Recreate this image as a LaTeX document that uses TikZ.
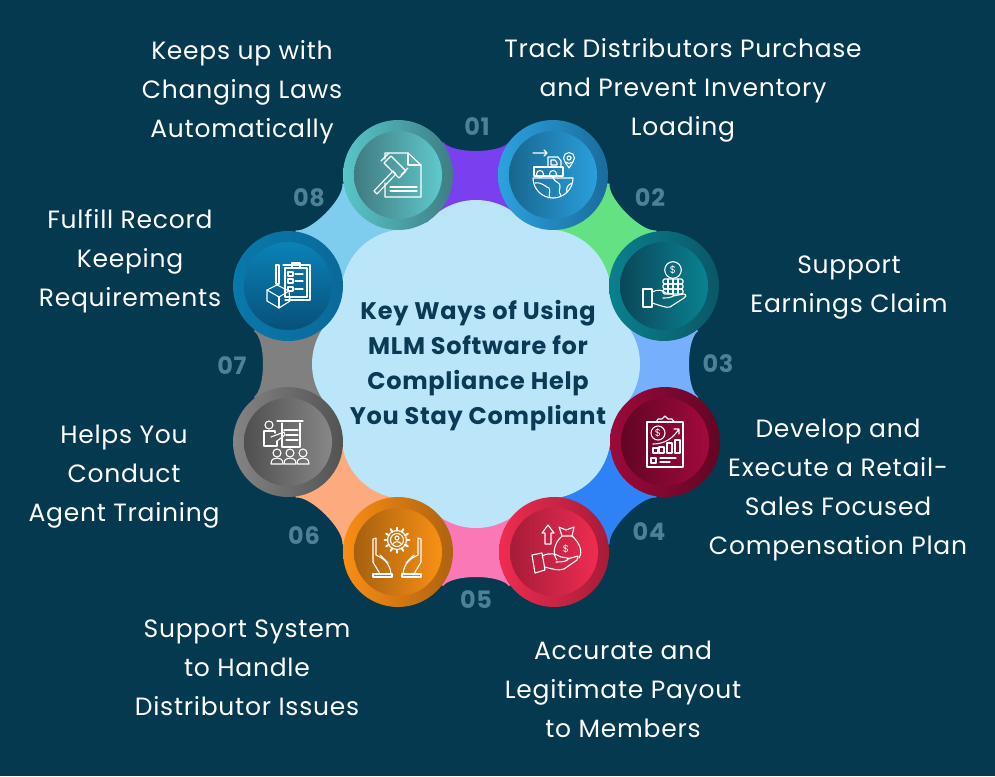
\documentclass[tikz,border=0pt]{standalone}
\usepackage{xcolor}
\usepackage{fontspec}
\setmainfont{Poppins}[LetterSpace=3]
\usetikzlibrary{
  positioning,
  calc
}
\definecolor{bgcol}{HTML}{04394F}
\definecolor{blobcol}{HTML}{BBE5F8}
\definecolor{titlecol}{HTML}{0A3A56}
\definecolor{numcol}{HTML}{4E8197}
\definecolor{gapA}{HTML}{7A3FEE}
\definecolor{gapB}{HTML}{64E283}
\definecolor{gapC}{HTML}{76AFFB}
\definecolor{gapD}{HTML}{2F82F6}
\definecolor{gapE}{HTML}{FB78B6}
\definecolor{gapF}{HTML}{FDAB7E}
\definecolor{gapG}{HTML}{808080}
\definecolor{gapH}{HTML}{7ECDEE}
\tikzset{
  ringdisc/.style={circle,minimum size=110pt,inner sep=0pt},
  coredisc/.style={circle,minimum size=88pt,inner sep=0pt},
  caption/.style={white,align=center,font=\fontsize{25}{39}\selectfont,inner sep=0pt},
  heading/.style={titlecol,align=center,font=\fontsize{24}{35}\selectfont\bfseries,inner sep=0pt},
  number/.style={numcol,font=\fontsize{24}{28}\selectfont\bfseries,inner sep=0pt},
  iconline/.style={white,line width=1.1pt,line join=round,line cap=round},
  dollar/.style={white,font=\fontsize{10}{10}\selectfont,inner sep=0pt}
}
\begin{document}
\begin{tikzpicture}[x=1pt,y=-1pt]
  \useasboundingbox[fill=bgcol] (0,0) rectangle (995,776);
  \coordinate (hub) at (476,364);
  % ring positions
  \foreach \k/\x/\y in {1/398/175,2/553/175,3/664/286,4/665/442,5/554/552,6/398/552,7/288/442,8/288/286}
  \coordinate (c\k) at (\x,\y);

  % coloured bands between neighbours
  \foreach \k/\a/\b/\col in {0/1/2/gapA,1/2/3/gapB,2/3/4/gapC,3/4/5/gapD,4/5/6/gapE,5/6/7/gapF,6/7/8/gapG,7/8/1/gapH}{
    \begin{scope}[shift={(hub)},rotate=-45*\k]
      \coordinate (p) at (-33,-222);
      \coordinate (q) at (-24,-210);
      \coordinate (r) at (24,-210);
      \coordinate (s) at (33,-222);
    \end{scope}
    \fill[\col] (hub) -- (c\a) -- (p) .. controls (q) and (r) .. (s) -- (c\b) -- cycle;
  }

  % centre blob
  \fill[blobcol] (hub) circle (150);
  \foreach \k in {0,...,7}
  \fill[blobcol] ($(hub)+({100*cos(45*\k)},{100*sin(45*\k)})$) circle (64);

  % discs
  \foreach \k/\oa/\ob/\ia/\ib in {
    1/59C5C9/3D7E84/3F7B81/60C9CC,
    2/2CA2DE/1A6C9C/17678F/2B9FDD,
    3/0A808E/0A5767/0A475A/0A8291,
    4/9B0A3B/630524/620524/A20A3D,
    5/EF2C50/A61C39/A61C39/EF2C50,
    6/FA8D14/AE630F/A5600F/FA9015,
    7/848484/535353/4F4F4F/878787,
    8/0A78AA/0A6A9A/0A82B6/08507A}{
    \definecolor{outa}{HTML}{\oa}\definecolor{outb}{HTML}{\ob}
    \definecolor{ina}{HTML}{\ia}\definecolor{inb}{HTML}{\ib}
    \node[ringdisc,left color=outa,right color=outb] (ring\k) at (c\k) {};
    \ifnum\k=8
      \node[coredisc,top color=ina,bottom color=inb] (core\k) at (c\k) {};
    \else
      \node[coredisc,left color=ina,right color=inb] (core\k) at (c\k) {};
    \fi
  }

  % icon 1: gavel and sheet
  \begin{scope}[shift={(c1)},iconline]
    \draw (-13,-16) -- (-13,-22) -- (10,-22) -- (23,-10) -- (23,22) -- (-13,22) -- (-13,8);
    \draw (10,-22) -- (10,-10) -- (23,-10);
    \draw (-8,12) -- (19,12) (-8,16) -- (19,16);
    \draw (-24,16) -- (-5,-4) -- (-2,-1) -- (-21,19) -- cycle;
    \draw (-7,-19) -- (8,-4) -- (1,3) -- (-14,-12) -- cycle;
    \draw (-9,-22) -- (-17,-14) (10,-7) -- (3,0);
  \end{scope}

  % icon 2: truck on globe
  \begin{scope}[shift={(c2)},iconline]
    \draw (-20,-22) -- (-6,-22) (-9,-25) -- (-6,-22) -- (-9,-19);
    \draw (-5,-8) -- (-5,-18) -- (5,-18) -- (8,-14) -- (8,-8);
    \draw (-2,-10) -- (-2,-15) -- (2,-15) -- (4,-12) -- (4,-10) -- cycle;
    \draw (-19,-8) rectangle (10,1);
    \draw (-13,-1) circle (3.5) (0,-1) circle (3.5);
    \draw (16,-17) circle (5.5) (16,-17) circle (2);
    \draw (12,-13) -- (16,-7) -- (20,-13);
    \draw (-20,3) .. controls (-20,14) and (-11,23) .. (0,23) .. controls (11,23) and (20,14) .. (20,3) -- cycle;
    \draw (-18,8) .. controls (-10,7) and (-8,12) .. (-4,13) .. controls (-2,16) and (-5,19) .. (-3,23);
    \draw (0,3) .. controls (2,8) and (8,7) .. (7,12) .. controls (6,16) and (6,19) .. (8,21);
    \draw (19,8) .. controls (14,10) and (13,14) .. (14,17);
  \end{scope}

  % icon 3: coins on a hand
  \begin{scope}[shift={(c3)},iconline]
    \draw (9,-16) circle (8.3);
    \node[dollar] (coin3) at (9,-16) {\$};
    \foreach \h in {-7,-2,3}{
      \draw[rounded corners=1.5pt] (-1,\h) rectangle (19,\h+5);
      \foreach \t in {4,9,14} \draw (\t,\h) -- (\t,\h+5);
    }
    \draw (-21,3) rectangle (-12,21);
    \draw (-12,6) .. controls (-6,3) and (-2,4) .. (2,7) -- (9,8) .. controls (11,10) and (8,12) .. (-1,12);
    \draw (9,10) -- (20,8) .. controls (23,9) and (22,11) .. (20,12) -- (6,21) .. controls (2,22) and (-2,20) .. (-12,17);
  \end{scope}

  % icon 4: sheet with bars
  \begin{scope}[shift={(c4)},iconline]
    \draw (-18,-20) rectangle (18,25);
    \draw (-9,-20) -- (-7,-23) -- (-3,-23) -- (0,-26) -- (3,-23) -- (7,-23) -- (9,-20) -- cycle;
    \draw (-7,-9) circle (7);
    \node[dollar] (coin4) at (-7,-9) {\$};
    \draw (-12,2) .. controls (0,2) and (8,-4) .. (14,-13) (9,-13) -- (14,-13) -- (14,-8);
    \foreach \x/\h in {-12/6,-6/5,2/1,10/-2}
    \draw (\x,11) -- (\x,\h) -- (\x+5,\h) -- (\x+5,11) -- cycle;
    \draw (-14,16) rectangle (-9,21);
    \draw (-5,16) -- (11,16) (-5,20) -- (5,20);
  \end{scope}

  % icon 5: money bag on a hand
  \begin{scope}[shift={(c5)},iconline]
    \draw (-6,-27) -- (-12,-19) -- (-9,-19) -- (-9,-8) -- (-3,-8) -- (-3,-19) -- (0,-19) -- cycle;
    \draw (8,-16) -- (18,-16) (8,-16) -- (5,-25) -- (12,-22) -- (20,-25) -- (18,-16);
    \draw (8,-16) .. controls (0,-9) and (-2,2) .. (3,8);
    \draw (18,-16) .. controls (26,-9) and (29,0) .. (25,6);
    \node[dollar] (coin5) at (12,-3) {\$};
    \draw (-22,3) -- (-12,1) -- (-9,18) -- (-19,21) -- cycle;
    \draw (-12,4) .. controls (-4,0) and (2,2) .. (7,5) -- (14,6) .. controls (15,8) and (12,10) .. (2,10);
    \draw (13,7) -- (24,4) -- (23,8) -- (10,17) .. controls (4,19) and (-2,17) .. (-9,15);
  \end{scope}

  % icon 6: gear over two hands
  \begin{scope}[shift={(c6)},iconline]
    \draw (-1,-12) circle (9.5) (-1,-12) circle (6.5);
    \foreach \t in {0,30,...,330}
    \draw[line width=2pt] ($(-1,-12)+({9.5*cos(\t)},{9.5*sin(\t)})$) -- ($(-1,-12)+({12.5*cos(\t)},{12.5*sin(\t)})$);
    \draw (-1,-14) circle (2);
    \draw (-5,-8) .. controls (-4,-11) and (2,-11) .. (3,-8);
    \foreach \s in {1,-1}{
      \begin{scope}[shift={(-1,0)},xscale=\s]
        \draw (-24,10) -- (-24,-13) -- (-21,-14) -- (-21,3) .. controls (-15,6) and (-7,10) .. (-6,22);
        \draw (-24,10) .. controls (-22,14) and (-19,18) .. (-17,22);
        \draw (-17,3) -- (-9,11);
        \draw (-24,22) rectangle (-5,25);
      \end{scope}
    }
  \end{scope}

  % icon 7: trainer and audience
  \begin{scope}[shift={(c7)},iconline]
    \draw (-19,-17) circle (4);
    \draw (-11,-21) -- (15,-21);
    \draw (-6,-19) -- (-6,5) -- (12,5) -- (12,-19);
    \draw (-4,-12) -- (10,-12) (-2,-7) -- (10,-7) (-2,-2) -- (10,-2);
    \draw (-24,4) -- (-24,-11) -- (-13,-11) -- (-13,-9) (-24,4) -- (-11,4) -- (-11,-1);
    \draw (-17,-5) -- (-4,-10) -- (-3,-7) -- (-11,-1);
    \foreach \x in {-11,2,15}{
      \draw (\x,11) circle (4);
      \draw (\x-6,22) .. controls (\x-6,17) and (\x-3,16) .. (\x,16) .. controls (\x+3,16) and (\x+6,17) .. (\x+6,22) -- cycle;
    }
  \end{scope}

  % icon 8: clipboard and box
  \begin{scope}[shift={(c8)},iconline]
    \draw (-5,-21) -- (22,-21) -- (22,14) -- (-3,14);
    \draw (-3,-18) rectangle (19,11);
    \draw (4,-18) -- (4,-23) -- (12,-23) -- (12,-18);
    \foreach \h in {-14,-7,1}{
      \draw (0,\h) rectangle (5,\h+4);
      \draw (7,\h+2) -- (15,\h+2);
    }
    \draw (-12,-21) rectangle (-9,-2);
    \draw (-21,4) -- (-11,-1) -- (1,5) -- (-9,11) -- cycle;
    \draw (-21,4) -- (-21,15) -- (-9,22) -- (2,15) -- (1,5);
    \draw (-9,11) -- (-9,22);
  \end{scope}

  % labels
  \foreach \k/\x/\y in {1/477/127,2/650/198,3/718/364,4/649/532,5/476/600,6/304/536,7/232/366,8/309/198}
  \node[number] (num\k) at (\x,\y) {0\k};

  \node[caption] (cap1) at (242,92) {Keeps up with\\Changing Laws\\Automatically};
  \node[caption] (cap2) at (683,90) {Track Distributors Purchase\\and Prevent Inventory\\Loading};
  \node[caption] (cap3) at (849,288) {Support\\Earnings Claim};
  \node[caption] (cap4) at (838,490) {Develop and\\Execute a Retail-\\Sales Focused\\Compensation Plan};
  \node[caption] (cap5) at (623,689) {Accurate and\\Legitimate Payout\\to Members};
  \node[caption] (cap6) at (247,668) {Support System\\to Handle\\Distributor Issues};
  \node[caption] (cap7) at (124,477) {Helps You\\Conduct\\Agent Training};
  \node[caption] (cap8) at (130,261) {Fulfill Record\\Keeping\\Requirements};
  \node[heading] (title) at (478,366) {Key Ways of Using\\MLM Software for\\Compliance Help\\You Stay Compliant};
\end{tikzpicture}
\end{document}
